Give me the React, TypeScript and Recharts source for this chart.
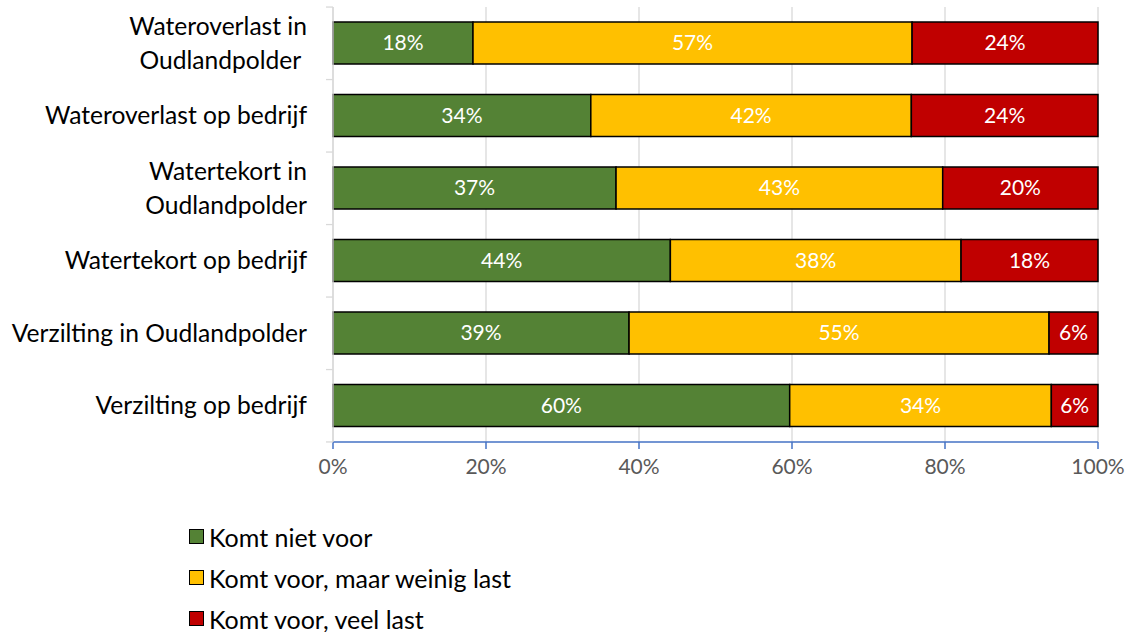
import React from "react";
import {
  BarChart,
  Bar,
  XAxis,
  YAxis,
  CartesianGrid,
  Legend,
  LabelList,
} from "recharts";

const categories = [
  "Wateroverlast in\nOudlandpolder\u00A0",
  "Wateroverlast op bedrijf",
  "Watertekort in\nOudlandpolder",
  "Watertekort op bedrijf",
  "Verzilting in Oudlandpolder",
  "Verzilting op bedrijf",
];
const nietVoor = [18.3, 33.7, 37.0, 44.1, 38.7, 59.7];
const weinigLast = [57.4, 41.9, 42.7, 38.0, 54.9, 34.2];
const veelLast = [24.3, 24.4, 20.3, 17.9, 6.4, 6.1];
const xTicks = [0, 20, 40, 60, 80, 100];

const series = [
  { key: "niet", name: "Komt niet voor", color: "#548235" },
  { key: "weinig", name: "Komt voor, maar weinig last", color: "#FFC000" },
  { key: "veel", name: "Komt voor, veel last", color: "#C00000" },
];

const data = categories.map((name, i) => ({
  name,
  niet: nietVoor[i],
  weinig: weinigLast[i],
  veel: veelLast[i],
}));

const FONT = "Lato, 'Liberation Sans', sans-serif";
const BAND = 72.4;

function CategoryTick(props: any) {
  const { x, y, payload, index } = props;
  const lines = String(payload.value).split("\n");
  const lh = 34;
  const start = -((lines.length - 1) * lh) / 2;
  return (
    <g>
      <line x1={x - 7} x2={x} y1={y - BAND / 2} y2={y - BAND / 2} stroke="#D9D9D9" strokeWidth={1.3} />
      {index === categories.length - 1 && (
        <line x1={x - 7} x2={x} y1={y + BAND / 2} y2={y + BAND / 2} stroke="#D9D9D9" strokeWidth={1.3} />
      )}
      <text
        x={x - 26}
        y={y}
        textAnchor="end"
        fill="#000"
        fontSize={24.6}
        style={{ whiteSpace: "pre" }}
      >
        {lines.map((l, i) => (
          <tspan key={i} x={x - 26} dy={i === 0 ? start + 8.5 : lh}>
            {l}
          </tspan>
        ))}
      </text>
    </g>
  );
}

function LegendBox() {
  return (
    <div style={{ fontFamily: FONT, fontSize: 25, color: "#000" }}>
      {series.map((s) => (
        <div key={s.key} style={{ height: 41, display: "flex", alignItems: "center" }}>
          <span
            style={{
              display: "inline-block",
              width: 13,
              height: 13,
              background: s.color,
              border: "1px solid #000",
              marginRight: 5,
            }}
          />
          <span>{s.name}</span>
        </div>
      ))}
    </div>
  );
}

export default function App() {
  return (
    <div style={{ position: "absolute", left: 0, top: 0, fontFamily: FONT, background: "#fff" }}>
      <BarChart
        width={1127}
        height={632}
        data={data}
        layout="vertical"
        margin={{ top: 7, right: 29, left: 0, bottom: 37 }}
      >
        <CartesianGrid horizontal={false} stroke="#D9D9D9" strokeWidth={1.3} />
        <XAxis
          type="number"
          domain={[0, 100]}
          ticks={xTicks}
          tickFormatter={(v) => `${v}%`}
          axisLine={{ stroke: "#4472C4", strokeWidth: 1.5 }}
          tickLine={{ stroke: "#4472C4", strokeWidth: 1.5 }}
          tickSize={7}
          tickMargin={10}
          tick={{ fill: "#595959", fontSize: 21 }}
          height={30}
        />
        <YAxis
          type="category"
          dataKey="name"
          width={333}
          axisLine={{ stroke: "#D9D9D9", strokeWidth: 1.3 }}
          tickLine={false}
          tickSize={0}
          tickMargin={0}
          interval={0}
          tick={<CategoryTick />}
        />
        <Legend
          content={<LegendBox />}
          verticalAlign="bottom"
          align="center"
          wrapperStyle={{ left: 189, top: 516, width: 420, height: 123 }}
        />
        {series.map((s) => (
          <Bar
            key={s.key}
            dataKey={s.key}
            name={s.name}
            stackId="a"
            fill={s.color}
            stroke="#000"
            strokeWidth={1.5}
            barSize={42}
            isAnimationActive={false}
          >
            <LabelList
              dataKey={s.key}
              position="center"
              fill="#fff"
              fontSize={21}
              formatter={(v: any) => `${Math.round(Number(v))}%`}
            />
          </Bar>
        ))}
      </BarChart>
    </div>
  );
}
